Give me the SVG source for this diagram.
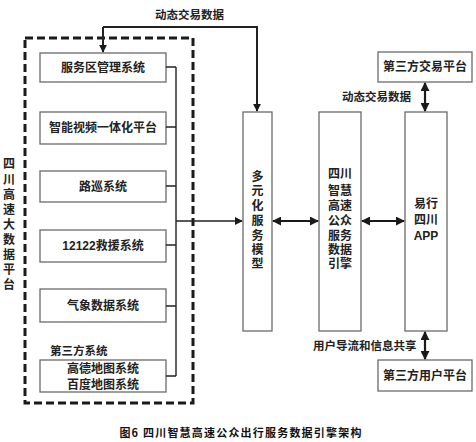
<svg xmlns="http://www.w3.org/2000/svg" width="476" height="442" viewBox="0 0 476 442">
<defs>
<marker id="ah" viewBox="0 0 10 10" refX="9" refY="5" markerWidth="8" markerHeight="8" markerUnits="userSpaceOnUse" orient="auto-start-reverse"><path d="M0,0 L10,5 L0,10 Z" fill="#1a1a1a"/></marker>
<marker id="ahb" viewBox="0 0 10 10" refX="9" refY="5" markerWidth="9" markerHeight="9" markerUnits="userSpaceOnUse" orient="auto-start-reverse"><path d="M0,0 L10,5 L0,10 Z" fill="#1a1a1a"/></marker>
<style>
.box{fill:#fff;stroke:#6a6a6a;stroke-width:1.3}
.t{font-family:"Liberation Sans","Noto Sans CJK SC",sans-serif;font-size:12px;font-weight:bold;fill:#222;text-anchor:middle}
.lbl{font-family:"Liberation Sans","Noto Sans CJK SC",sans-serif;font-size:11.5px;font-weight:bold;fill:#222}
.ln{fill:none;stroke:#222;stroke-width:1.4}
.arr{fill:none;stroke:#1a1a1a;stroke-width:2.2}
</style>
</defs>
<rect width="476" height="442" fill="#fff"/>
<g id="platform">
<rect x="25" y="38" width="168" height="365" fill="none" stroke="#1a1a1a" stroke-width="3" stroke-dasharray="8,4"/>
<text class="t" x="9" y="168">四</text>
<text class="t" x="9" y="184">川</text>
<text class="t" x="9" y="199">高</text>
<text class="t" x="9" y="214">速</text>
<text class="t" x="9" y="229">大</text>
<text class="t" x="9" y="244">数</text>
<text class="t" x="9" y="259">据</text>
<text class="t" x="9" y="274">平</text>
<text class="t" x="9" y="289">台</text>
</g>
<g id="n1"><rect class="box" x="40" y="53" width="126" height="29"/><text class="t" x="103" y="72">服务区管理系统</text></g>
<g id="n2"><rect class="box" x="40" y="112" width="126" height="32"/><text class="t" x="103" y="132">智能视频一体化平台</text></g>
<g id="n3"><rect class="box" x="40" y="171" width="126" height="31"/><text class="t" x="103" y="191">路巡系统</text></g>
<g id="n4"><rect class="box" x="40" y="230" width="126" height="32"/><text class="t" x="103" y="250">12122救援系统</text></g>
<g id="n5"><rect class="box" x="40" y="289" width="126" height="33"/><text class="t" x="103" y="310">气象数据系统</text></g>
<g id="n6"><text class="lbl" x="50" y="355">第三方系统</text><rect class="box" x="40" y="360" width="126" height="32"/><text class="t" x="103" y="373">高德地图系统</text><text class="t" x="103" y="389">百度地图系统</text></g>
<g id="model"><rect class="box" x="243" y="112" width="29" height="219"/>
<text class="t" x="257.5" y="181">多</text><text class="t" x="257.5" y="195">元</text><text class="t" x="257.5" y="210">化</text><text class="t" x="257.5" y="225">服</text><text class="t" x="257.5" y="240">务</text><text class="t" x="257.5" y="254">模</text><text class="t" x="257.5" y="268">型</text></g>
<g id="engine"><rect class="box" x="319" y="112" width="42" height="219"/>
<text class="t" x="340" y="178">四川</text><text class="t" x="340" y="195">智慧</text><text class="t" x="340" y="210">高速</text><text class="t" x="340" y="225">公众</text><text class="t" x="340" y="240">服务</text><text class="t" x="340" y="254">数据</text><text class="t" x="340" y="268">引擎</text></g>
<g id="app"><rect class="box" x="405" y="112" width="42" height="219"/>
<text class="t" x="426" y="208">易行</text><text class="t" x="426" y="224">四川</text><text class="t" x="426" y="240">APP</text></g>
<g id="trade"><rect class="box" x="378" y="52" width="94" height="30"/><text class="t" x="425" y="71">第三方交易平台</text></g>
<g id="user"><rect class="box" x="378" y="360" width="94" height="31"/><text class="t" x="425" y="380">第三方用户平台</text></g>
<g id="connectors">
<path class="ln" d="M166,67 H176 M166,127 H176 M166,186 H176 M166,245 H176 M166,306 H176 M166,376 H176 M176,67 V376"/>
<path class="ln" d="M176,221 H242" marker-end="url(#ah)"/>
<path class="ln" style="stroke-width:2" d="M103,27 H257 V111" marker-end="url(#ah)"/>
<path class="ln" style="stroke-width:2" d="M103,27 V52" marker-end="url(#ah)"/>
<path class="arr" d="M273,221 H318" marker-start="url(#ahb)" marker-end="url(#ahb)"/>
<path class="arr" d="M362,221 H404" marker-start="url(#ahb)" marker-end="url(#ahb)"/>
<path class="arr" d="M425,83 V111" marker-start="url(#ahb)" marker-end="url(#ahb)"/>
<path class="arr" d="M425,332 V359" marker-start="url(#ahb)" marker-end="url(#ahb)"/>
<text class="lbl" x="155" y="19">动态交易数据</text>
<text class="lbl" x="342" y="101">动态交易数据</text>
<text class="lbl" x="313" y="350">用户导流和信息共享</text>
</g>
<text x="241" y="437" font-family="'Noto Sans CJK SC',sans-serif" font-size="11" font-weight="bold" fill="#111" text-anchor="middle" letter-spacing="1.2">图6 四川智慧高速公众出行服务数据引擎架构</text>
</svg>
